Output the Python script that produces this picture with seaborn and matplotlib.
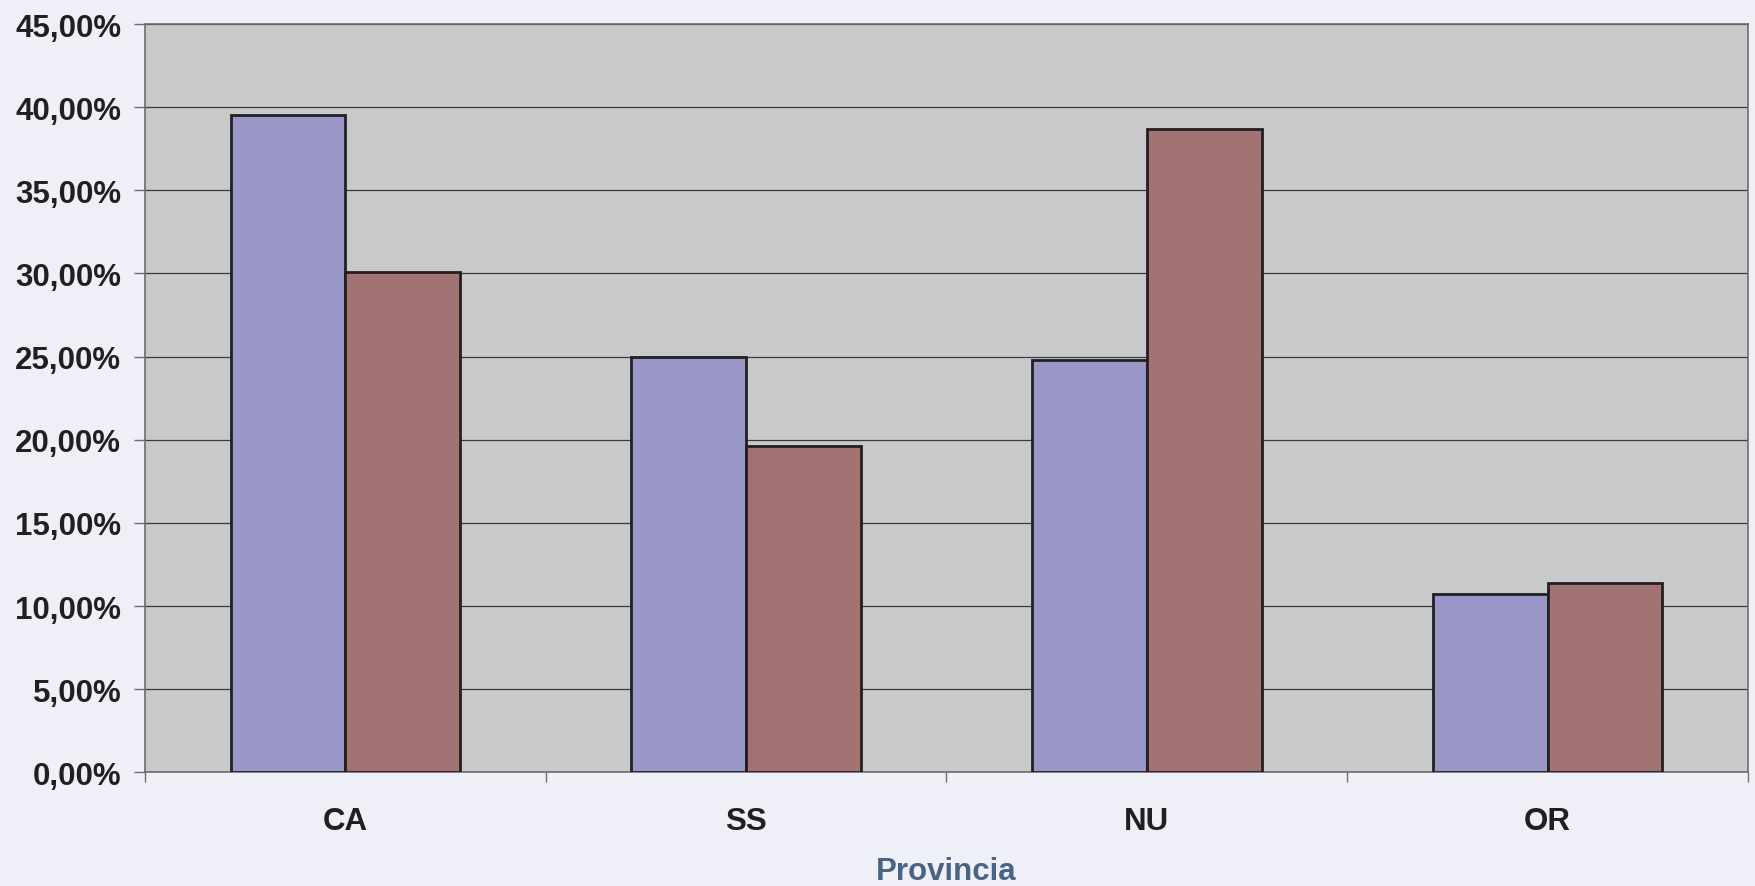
import numpy as np
import pandas as pd
import seaborn as sns
import matplotlib.pyplot as plt
from matplotlib.ticker import FuncFormatter, FixedLocator

# data
province = ["CA", "SS", "NU", "OR"]
serie_1 = [39.5, 25.0, 24.8, 10.7]
serie_2 = [30.1, 19.6, 38.7, 11.4]
series_names = ["Serie 1", "Serie 2"]
y_ticks = [0, 5, 10, 15, 20, 25, 30, 35, 40, 45]

df = pd.DataFrame({
    "Provincia": province * 2,
    "valore": serie_1 + serie_2,
    "serie": [series_names[0]] * 4 + [series_names[1]] * 4,
})

sns.set_style("white")
plt.rcParams["font.family"] = ["Liberation Sans", "DejaVu Sans"]
plt.rcParams["font.weight"] = "bold"

text_col = "#231F20"
fig = plt.figure(figsize=(17.55, 8.87), dpi=100, facecolor="#EFEFF8")
ax = fig.add_axes([0.0826, 0.1282, 0.9134, 0.8436])
ax.set_facecolor("#C8C9CB")

sns.barplot(data=df, x="Provincia", y="valore", hue="serie",
            palette=["#9996C8", "#A37373"], saturation=1, width=0.573,
            edgecolor=text_col, linewidth=2.0, legend=False, ax=ax,
            zorder=3)

ax.set_ylim(0, 45)
ax.set_xlim(-0.5, len(province) - 0.5)
ax.yaxis.set_major_locator(FixedLocator(y_ticks))
ax.yaxis.set_major_formatter(FuncFormatter(lambda v, p: f"{v:.2f}%".replace(".", ",")))
ax.grid(axis="y", color="#3A3A3A", linewidth=0.9, zorder=1)
ax.set_axisbelow(True)

# tick marks between categories, labels at centres
ax.xaxis.set_minor_locator(FixedLocator(np.arange(-0.5, len(province), 1.0)))
ax.tick_params(axis="x", which="major", length=0, pad=24, labelsize=22.5,
               labelcolor=text_col)
ax.tick_params(axis="x", which="minor", length=7, width=1, color="#6D6D6D",
               bottom=True)
ax.tick_params(axis="y", length=8, width=1, color="#6D6D6D", pad=9,
               labelsize=22.5, labelcolor=text_col, left=True)

for s in ax.spines.values():
    s.set_color("#6D6D6D")
    s.set_linewidth(1.2)

ax.set_xlabel("Provincia", fontsize=22.5, fontweight="bold", color="#4A6382",
              labelpad=15)
ax.set_ylabel("")

fig.savefig("out.png", dpi=100, facecolor=fig.get_facecolor())
